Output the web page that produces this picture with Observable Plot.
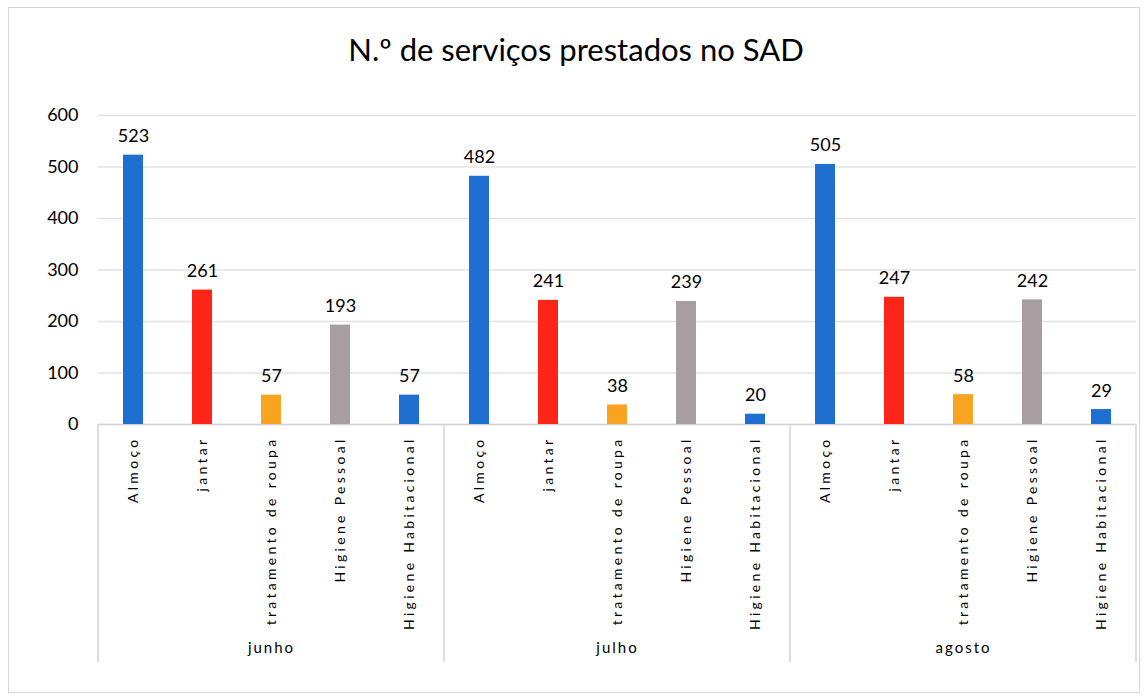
<!DOCTYPE html>
<html><head><meta charset="utf-8">
<script src="https://cdn.jsdelivr.net/npm/d3@7"></script>
<script src="https://cdn.jsdelivr.net/npm/@observablehq/plot@0.6"></script>
<style>
body{margin:0;background:#fff;font-family:Lato,"Open Sans",sans-serif;}
#wrap{position:relative;width:1144px;height:696px;overflow:hidden;background:#fff;}
#frame{position:absolute;left:8px;top:7px;width:1132px;height:686px;border:1.5px solid #d6d6d6;box-sizing:border-box;}
#title{position:absolute;top:30px;left:0;width:1152px;text-align:center;font-size:31px;color:#000;font-family:Lato,"Open Sans",sans-serif;}
#chart{position:absolute;top:90px;left:0;}
#chart svg [aria-label="x-axis tick label"] text{letter-spacing:3.3px;}
#chart svg [aria-label="fx-axis tick label"] text{letter-spacing:2px;}
</style></head>
<body>
<div id="wrap">
<div id="frame"></div>
<div id="title">N.º de serviços prestados no SAD</div>
<div id="chart"></div>
</div>
<script>
const months = ["junho", "julho", "agosto"];
const categories = ["Almoço", "jantar", "tratamento de roupa", "Higiene Pessoal", "Higiene Habitacional"];
const junhoValues = [523, 261, 57, 193, 57];
const julhoValues = [482, 241, 38, 239, 20];
const agostoValues = [505, 247, 58, 242, 29];
const categoryColors = ["#1f6fd0", "#ff2418", "#f8a420", "#a79ea1", "#1f6fd0"];
const yTicks = [0, 100, 200, 300, 400, 500, 600];

const seriesByMonth = [junhoValues, julhoValues, agostoValues];
const rows = [];
months.forEach((m, i) => categories.forEach((c, j) => rows.push({month: m, category: c, value: seriesByMonth[i][j]})));

const W = 1144, H = 600, mL = 97, mR = 8, mT = 25, mB = 266;
const plot = Plot.plot({
  width: W, height: H,
  marginLeft: mL, marginRight: mR, marginTop: mT, marginBottom: mB,
  style: {fontFamily: "Lato, 'Open Sans', sans-serif", background: "transparent"},
  fx: {domain: months, padding: 0},
  x: {domain: categories, paddingInner: 0.71, paddingOuter: 0.355},
  y: {domain: [0, 600]},
  color: {domain: categories, range: categoryColors},
  marks: [
    Plot.gridY(yTicks, {stroke: "#e3e3e3", strokeOpacity: 1, strokeWidth: 1.5}),
    Plot.ruleY([0], {stroke: "#d4d4d4", strokeWidth: 1.5}),
    Plot.barY(rows, {fx: "month", x: "category", y: "value", fill: "category"}),
    Plot.text(rows, {fx: "month", x: "category", y: "value", text: d => String(d.value), lineAnchor: "bottom", dy: -13, fontSize: 18, fill: "#000"}),
    Plot.axisY(yTicks, {tickSize: 0, tickPadding: 20, fontSize: 18, label: null, color: "#000"}),
    Plot.axisX({tickRotate: -90, tickSize: 0, tickPadding: 12, fontSize: 14, label: null, color: "#000"}),
    Plot.axisFx({anchor: "bottom", tickSize: 0, tickPadding: 218, fontSize: 15, label: null, color: "#000"})
  ]
});
document.getElementById("chart").appendChild(plot);

// group separators below the axis, positioned from the fx scale
const fx = plot.scale("fx");
const bw = fx.bandwidth;
const edges = months.map(m => fx.apply(m)).concat([fx.apply(months[months.length - 1]) + bw]);
d3.select(plot).append("g").selectAll("line").data(edges).join("line")
  .attr("x1", d => d).attr("x2", d => d)
  .attr("y1", H - mB).attr("y2", H - mB + 238)
  .attr("stroke", "#d4d4d4").attr("stroke-width", 1.5);
</script>
</body></html>
